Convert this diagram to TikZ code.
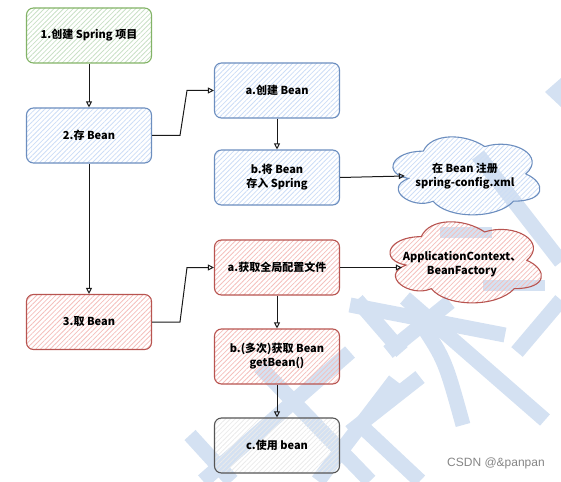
\documentclass[tikz,border=0pt]{standalone}
\usepackage{fontspec}
\setmainfont{Noto Sans CJK SC}
\newfontfamily\markfont{Liberation Sans}
\usetikzlibrary{arrows.meta,patterns.meta}

\definecolor{gfill}{HTML}{C9E0C6}
\definecolor{gline}{HTML}{82B366}
\definecolor{bfill}{HTML}{CCDDF6}
\definecolor{bline}{HTML}{6C8EBF}
\definecolor{rfill}{HTML}{F4BFBC}
\definecolor{rline}{HTML}{B85450}
\definecolor{kfill}{HTML}{EBEBEB}
\definecolor{kline}{HTML}{555555}
\definecolor{wm}{RGB}{212,225,242}

\tikzset{
  box/.style={rectangle, rounded corners=7pt, minimum width=125pt, minimum height=55pt,
    line width=1.1pt, align=center, inner sep=2pt,
    font=\fontsize{11}{14}\selectfont\bfseries},
  hatch/.style={pattern={Lines[angle=45,distance=3.4pt,line width=0.8pt]}, pattern color=#1},
  greenbox/.style={box, draw=gline, hatch=gfill},
  bluebox/.style={box, draw=bline, hatch=bfill},
  redbox/.style={box, draw=rline, hatch=rfill},
  greybox/.style={box, draw=kline, hatch=kfill},
  cloudtext/.style={align=center, inner sep=0pt, minimum width=120pt,
    font=\fontsize{11}{14}\selectfont\bfseries},
  arr/.style={line width=1pt, draw=black!90, -{Triangle[open,length=6pt,width=6pt]}},
  wmband/.style={line width=15pt, draw=wm},
}

\begin{document}
\begin{tikzpicture}[x=1pt,y=-1pt]
\useasboundingbox (0,0) rectangle (561,481);

% watermark
\begin{scope}
\clip (0,0) rectangle (561,481);
\fill[wm] (545,92) -- (561,78) -- (561,107) -- cycle;
\draw[wmband] (478,155) -- (561,262);
\draw[wmband, line width=11pt] (440,232) -- (492,232);
\draw[wmband, line width=11pt] (483,285) -- (545,285);
\draw[wmband] (350,305) -- (505,335);
\draw[wmband] (405,298) -- (545,420);
\draw[wmband] (420,322) .. controls (445,360) .. (463,425);
\draw[wmband] (388,352) -- (450,302);
\draw[wmband] (517,352) -- (561,300);
\draw[wmband] (190,435) -- (232,481);
\draw[wmband] (203,481) -- (350,352);
\draw[wmband] (260,367) -- (370,481);
\draw[wmband] (318,481) -- (395,380);
\draw[wmband] (357,300) -- (402,352);
\draw[wmband] (350,432) -- (420,377);
\draw[wmband] (355,420) -- (420,481);
\end{scope}

% clouds
\begin{scope}[shift={(382.3,128.4)}, x=164pt, y=-91pt]
\draw[draw=bline, line width=1.1pt, hatch=bfill]
  (0.25,0.25) .. controls (0.05,0.25) and (0,0.5) .. (0.16,0.55)
  .. controls (0,0.66) and (0.18,0.9) .. (0.31,0.8)
  .. controls (0.4,1) and (0.7,1) .. (0.8,0.8)
  .. controls (1,0.8) and (1,0.6) .. (0.875,0.5)
  .. controls (1,0.3) and (0.8,0.1) .. (0.625,0.2)
  .. controls (0.5,0.05) and (0.3,0.05) .. (0.25,0.25) -- cycle;
\end{scope}
\begin{scope}[shift={(379,213)}, x=169pt, y=-94.6pt]
\draw[draw=rline, line width=1.1pt, hatch=rfill]
  (0.25,0.25) .. controls (0.05,0.25) and (0,0.5) .. (0.16,0.55)
  .. controls (0,0.66) and (0.18,0.9) .. (0.31,0.8)
  .. controls (0.4,1) and (0.7,1) .. (0.8,0.8)
  .. controls (1,0.8) and (1,0.6) .. (0.875,0.5)
  .. controls (1,0.3) and (0.8,0.1) .. (0.625,0.2)
  .. controls (0.5,0.05) and (0.3,0.05) .. (0.25,0.25) -- cycle;
\end{scope}

% boxes
\node[greenbox] (s1) at (89,35.5) {1.创建 Spring 项目};
\node[bluebox]  (s2) at (89,135.5) {2.存 Bean};
\node[redbox]   (s3) at (89,322) {3.取 Bean};
\node[bluebox]  (a1) at (277,90.5) {a.创建 Bean};
\node[bluebox]  (b1) at (277,177.5) {b.将 Bean\\存入 Spring};
\node[redbox]   (a2) at (277,267.5) {a.获取全局配置文件};
\node[redbox]   (b2) at (277,356.5) {b.(多次)获取 Bean\\getBean()};
\node[greybox]  (c2x) at (277,445.5) {c.使用 bean};

\node[cloudtext] (k1) at (465,176) {在 Bean 注册\\spring-config.xml};
\node[cloudtext] (k2) at (462,264) {ApplicationContext、\\BeanFactory};

\node[font=\markfont\fontsize{12}{14}\selectfont, text=black!48, inner sep=0pt] (mark) at (496,463) {CSDN @\&panpan};

% connectors
\coordinate (t1) at (180,135.5);
\coordinate (t2) at (187,90.5);
\coordinate (t3) at (180,322);
\coordinate (t4) at (187,267.5);
\draw[arr] (s1) -- (s2);
\draw[arr] (s2) -- (s3);
\draw[arr] (s2.east) -- (t1) -- (t2) -- (a1.west);
\draw[arr] (a1) -- (b1);
\draw[arr] (b1.east) -- (k1.west);
\draw[arr] (s3.east) -- (t3) -- (t4) -- (a2.west);
\draw[arr] (a2.east) -- (a2.east -| k2.west);
\draw[arr] (a2) -- (b2);
\draw[arr] (b2) -- (c2x);
\end{tikzpicture}
\end{document}
